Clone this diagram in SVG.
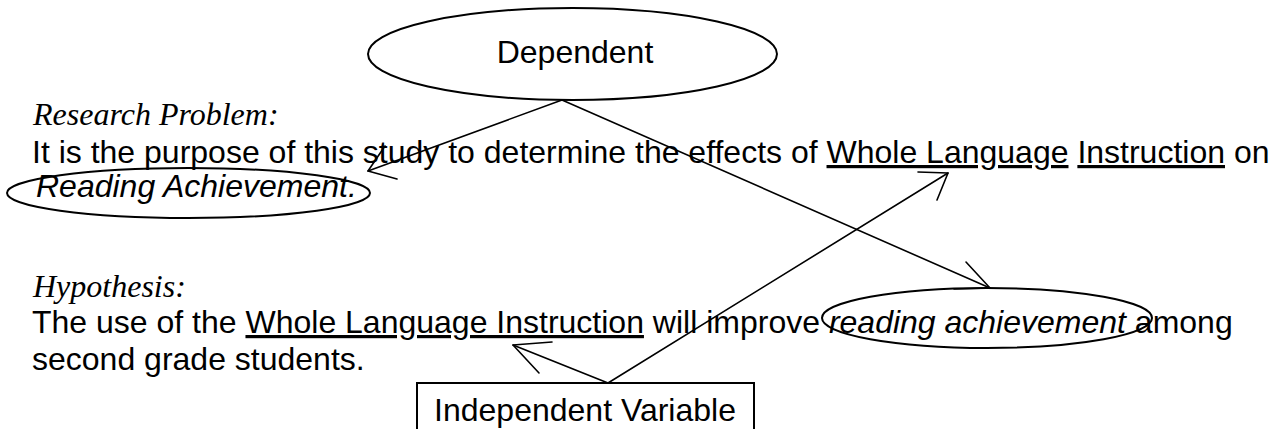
<svg xmlns="http://www.w3.org/2000/svg" width="1282" height="429" viewBox="0 0 1282 429">
  <style>
    .sans { font-family: "Liberation Sans", Arial, sans-serif; font-size: 32px; fill: #000; }
    .serif { font-family: "Liberation Serif", "Times New Roman", serif; font-size: 32px; font-style: italic; fill: #000; }
    .it { font-style: italic; }
    .u { text-decoration: underline; }
    .outline { fill: none; stroke: #000; stroke-width: 2; }
    .link { fill: none; stroke: #000; stroke-width: 1.6; stroke-linecap: round; stroke-linejoin: round; }
  </style>
  <rect width="1282" height="429" fill="#fff"/>

  <!-- dependent variable bubble -->
  <g id="dependent">
    <ellipse class="outline" cx="572.5" cy="54" rx="204.5" ry="46"/>
    <text class="sans" x="575" y="63" text-anchor="middle">Dependent</text>
  </g>

  <!-- research problem statement -->
  <g id="research-problem">
    <text class="serif" x="33" y="125">Research Problem:</text>
    <text class="sans" x="32" y="163">It is the purpose of this study to determine the effects of <tspan class="u">Whole Language</tspan> <tspan class="u">Instruction</tspan> on</text>
  </g>

  <g id="reading-achievement">
    <ellipse class="outline" cx="188.5" cy="193" rx="181.5" ry="25"/>
    <text class="sans it" x="36" y="197">Reading Achievement.</text>
  </g>

  <!-- hypothesis statement -->
  <g id="hypothesis">
    <text class="serif" x="33" y="297">Hypothesis:</text>
    <text class="sans" x="32" y="333">The use of the <tspan class="u">Whole Language Instruction</tspan> will improve <tspan class="it">reading achievement</tspan> among</text>
    <text class="sans" x="32" y="370">second grade students.</text>
  </g>

  <g id="reading-achievement-2">
    <ellipse class="outline" cx="987" cy="318" rx="165" ry="30"/>
  </g>

  <!-- independent variable box -->
  <g id="independent">
    <rect class="outline" x="417" y="383" width="337" height="60"/>
    <text class="sans" x="585" y="421" text-anchor="middle">Independent Variable</text>
  </g>

  <!-- connectors with open arrowheads -->
  <g id="connectors">
    <line class="link" x1="562" y1="100" x2="368" y2="171"/>
    <polyline class="link" points="397,179 368,171 385,146"/>

    <line class="link" x1="562" y1="100" x2="990" y2="288"/>
    <polyline class="link" points="966,262 990,288 954,289"/>

    <line class="link" x1="608" y1="383" x2="513" y2="345"/>
    <polyline class="link" points="552,342 513,345 539,373"/>

    <line class="link" x1="608" y1="383" x2="948" y2="173"/>
    <polyline class="link" points="918,172 948,173 937,200"/>
  </g>
</svg>
